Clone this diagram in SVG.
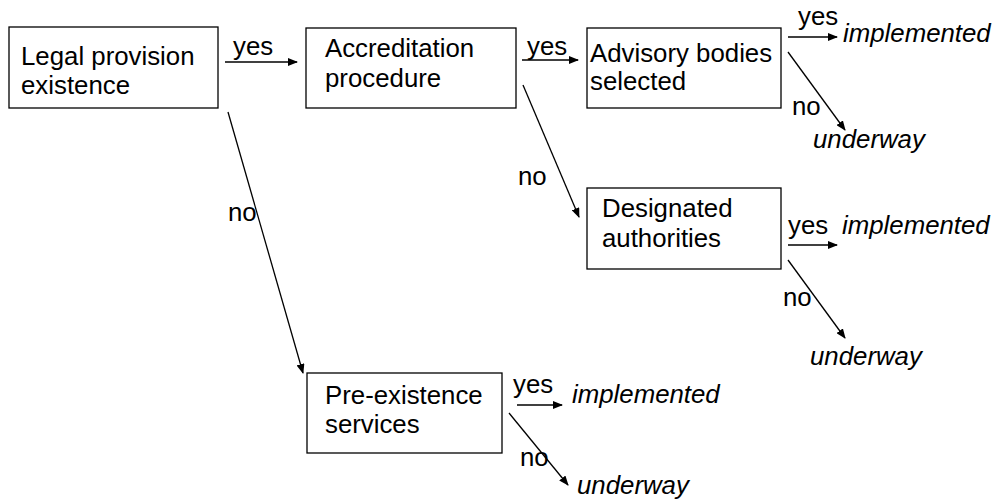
<svg xmlns="http://www.w3.org/2000/svg" width="996" height="501" viewBox="0 0 996 501">
<style>
.box{fill:#fff;stroke:#000;stroke-width:1.3}
.t{font-family:"Liberation Sans",Arial,sans-serif;font-size:25.8px;fill:#000}
.i{font-style:italic}
.c{stroke:#000;stroke-width:1.3;fill:none;marker-end:url(#ah)}
</style>
<defs>
<marker id="ah" markerUnits="userSpaceOnUse" markerWidth="10" markerHeight="8" refX="9" refY="4" orient="auto">
<path d="M0,0 L10,4 L0,8 Z" fill="#000"/>
</marker>
</defs>
<rect width="996" height="501" fill="#fff"/>
<g id="connectors">
<line class="c" x1="225" y1="62" x2="297" y2="62"/>
<line class="c" x1="228" y1="112" x2="303" y2="373"/>
<line class="c" x1="522" y1="60" x2="578" y2="60"/>
<line class="c" x1="523" y1="85" x2="579" y2="217"/>
<line class="c" x1="788" y1="37" x2="837" y2="37"/>
<line class="c" x1="788" y1="52" x2="845" y2="130"/>
<line class="c" x1="788" y1="245" x2="837" y2="245"/>
<line class="c" x1="788" y1="260" x2="845" y2="338"/>
<line class="c" x1="517" y1="405" x2="562" y2="405"/>
<line class="c" x1="509" y1="413" x2="568" y2="485"/>
<text class="t" x="233" y="55">yes</text>
<text class="t" x="228" y="221">no</text>
<text class="t" x="527" y="55">yes</text>
<text class="t" x="518" y="185">no</text>
<text class="t" x="798" y="25">yes</text>
<text class="t" x="792" y="115">no</text>
<text class="t" x="788" y="234">yes</text>
<text class="t" x="783" y="306">no</text>
<text class="t" x="513" y="393">yes</text>
<text class="t" x="520" y="466">no</text>
</g>
<g id="legal">
<rect class="box" x="9" y="27" width="209" height="81"/>
<text class="t" x="21" y="65">Legal provision</text>
<text class="t" x="21" y="94">existence</text>
</g>
<g id="accreditation">
<rect class="box" x="306" y="28" width="210" height="80"/>
<text class="t" x="325" y="57">Accreditation</text>
<text class="t" x="325" y="87">procedure</text>
</g>
<g id="advisory">
<rect class="box" x="587" y="28" width="194" height="80"/>
<text class="t" x="590" y="62">Advisory bodies</text>
<text class="t" x="590" y="90">selected</text>
</g>
<g id="designated">
<rect class="box" x="587" y="188" width="194" height="81"/>
<text class="t" x="602" y="217">Designated</text>
<text class="t" x="602" y="247">authorities</text>
</g>
<g id="preexistence">
<rect class="box" x="307" y="373" width="195" height="80"/>
<text class="t" x="325" y="404">Pre-existence</text>
<text class="t" x="325" y="433">services</text>
</g>
<g id="outcome-adv-yes"><text class="t i" x="843" y="42">implemented</text></g>
<g id="outcome-adv-no"><text class="t i" x="813" y="148">underway</text></g>
<g id="outcome-des-yes"><text class="t i" x="842" y="234">implemented</text></g>
<g id="outcome-des-no"><text class="t i" x="810" y="365">underway</text></g>
<g id="outcome-pre-yes"><text class="t i" x="572" y="403">implemented</text></g>
<g id="outcome-pre-no"><text class="t i" x="577" y="494">underway</text></g>
</svg>
